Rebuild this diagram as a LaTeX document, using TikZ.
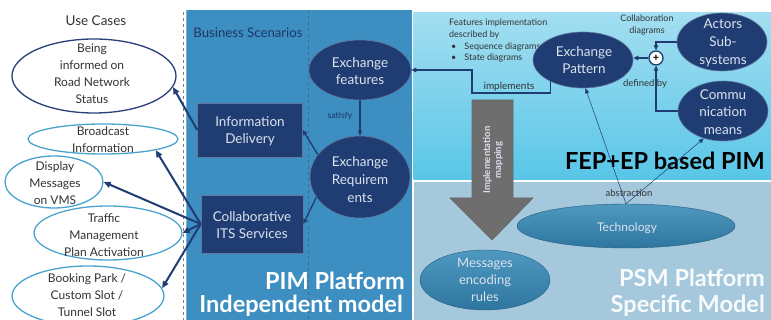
\documentclass[tikz,border=0pt]{standalone}
\usepackage{fontspec}
\setmainfont{Lato}
\usetikzlibrary{shapes.geometric,arrows.meta}
\definecolor{navy}{HTML}{1F3D73}
\definecolor{ucdark}{HTML}{2A3F7A}
\definecolor{uclight}{HTML}{4AA3CF}
\definecolor{pimblue}{HTML}{3D8EC1}
\definecolor{pimedge}{HTML}{6DB3DA}
\definecolor{fepTop}{HTML}{A3DEF1}
\definecolor{fepBot}{HTML}{58C6E7}
\definecolor{psmbg}{HTML}{A5C8DD}
\definecolor{psmTop}{HTML}{4F98C0}
\definecolor{psmBot}{HTML}{2E769F}
\definecolor{lighttext}{HTML}{DCE3EE}
\definecolor{grayarrow}{HTML}{6E6E6E}
\begin{document}
\begin{tikzpicture}[x=1pt,y=-1pt,
  ucshape/.style={ellipse, draw, line width=1.3pt, inner sep=0pt, fill=white},
  ucd/.style={ucshape, draw=ucdark},
  ucl/.style={ucshape, draw=uclight},
  uctext/.style={align=center, inner sep=0pt, text=black!80, font=\fontsize{12}{17}\selectfont},
  nbox/.style={rectangle, fill=navy, draw=navy!70!white, line width=0.6pt, inner sep=0pt},
  nell/.style={ellipse, fill=navy, draw=navy!70!white, line width=0.6pt, inner sep=0pt},
  ntext/.style={align=center, inner sep=0pt, text=lighttext, font=\fontsize{13.5}{17}\selectfont},
  pell/.style={ellipse, top color=psmTop, bottom color=psmBot, draw=psmBot!80!black, line width=0.4pt, inner sep=0pt},
  ptext/.style={align=center, inner sep=0pt, text=lighttext, font=\fontsize{13}{17}\selectfont},
  arr/.style={-{Triangle[length=7pt,width=6pt]}, line width=2pt, draw=navy},
  marr/.style={-{Triangle[length=5pt,width=4.5pt]}, line width=1.3pt, draw=navy},
  thinarr/.style={-{Triangle[length=5pt,width=4pt]}, line width=0.5pt, draw=navy},
  small/.style={inner sep=0pt, text=black!80, font=\fontsize{9}{11.7}\selectfont},
  bigw/.style={inner sep=0pt, text=white, font=\fontsize{23.5}{26}\selectfont\bfseries},
]
\useasboundingbox (0,0) rectangle (771,320);
\clip (0,0) rectangle (771,320);
\fill[white] (0,0) rectangle (771,320);

% panels
\fill[pimblue] (186,10) rectangle (412,320);
\draw[pimedge, line width=1pt] (186.5,10) -- (186.5,320);
\draw[navy!80, dashed, line width=0.5pt] (308,10) -- (308,320);
\draw[gray, dashed, line width=0.6pt] (183,12) -- (183,320);
\shade[top color=fepTop, bottom color=fepBot] (413.5,13) rectangle (771,180);
\fill[psmbg] (413.5,182) rectangle (771,320);

% use cases
\node[uctext, font=\fontsize{13.5}{16}\selectfont] (uctitle) at (96,21) {Use Cases};
\node[ucd, minimum width=164, minimum height=74] (uc1) at (94,76) {};
\node[uctext] (uc1t) at (92,74) {Being\\informed on\\Road Network\\Status};
\node[ucl, minimum width=150, minimum height=30] (uc2) at (103,139) {};
\node[uctext] (uc2t) at (103,140) {Broadcast\\Information};
\node[ucl, minimum width=98, minimum height=52] (uc3) at (54,182) {};
\node[uctext] (uc3t) at (55,183) {Display\\Messages\\on VMS};
\node[ucl, minimum width=148, minimum height=54] (uc4) at (108,233) {};
\node[uctext] (uc4t) at (104,235) {Traffic\\Management\\Plan Activation};
\node[ucl, minimum width=152, minimum height=60] (uc5) at (88,296) {};
\node[uctext] (uc5t) at (87,295) {Booking Park /\\Custom Slot /\\Tunnel Slot};

% PIM
\node[inner sep=0pt, text=navy!90!black, font=\fontsize{13.2}{15}\selectfont] (bs) at (248,33) {Business Scenarios};
\node[nbox, minimum width=105, minimum height=54] (info) at (250,130) {};
\node[ntext] (infot) at (250,131) {Information\\Delivery};
\node[nbox, minimum width=102, minimum height=58] (collab) at (252,224) {};
\node[ntext] (collabt) at (252,225) {Collaborative\\ITS Services};
\node[nell, minimum width=102, minimum height=60] (feat) at (360,70) {};
\node[ntext] (featt) at (360,71) {Exchange\\features};
\node[nell, minimum width=100, minimum height=82] (req) at (360,177) {};
\node[ntext, font=\fontsize{13.5}{18}\selectfont] (reqt) at (360,180) {Exchange\\Requirem\\ents};
\node[inner sep=0pt, text=navy!90!black, font=\fontsize{8.7}{10}\selectfont] (satisfy) at (340,116) {satisfy};
\node[bigw, anchor=east] (pim1) at (405,281) {PIM Platform};
\node[bigw, anchor=east] (pim2) at (403,306) {Independent model};

\draw[marr] (feat) -- (req);
\draw[marr] (req.152) -- (info.east);
\draw[marr] (req.205) -- (collab.east);

\draw[arr] (info.west) -- (uc1.-8);
\draw[arr] (collab.west) -- (uc2.-12);
\draw[arr] (collab.west) -- (uc3.east);
\draw[arr] (collab.west) -- (uc4.east);
\draw[arr] (collab.west) -- (uc5.6);

% FEP+EP
\node[small, align=left, anchor=north west] (featimpl) at (449,19) {Features implementation\\described by\\[0pt]
\hspace*{2pt}\textbullet\hspace{8pt}Sequence diagrams\\
\hspace*{2pt}\textbullet\hspace{8pt}State diagrams};
\node[nell, minimum width=100, minimum height=56] (pattern) at (583,60) {};
\node[ntext] (patternt) at (584,60) {Exchange\\Pattern};
\node[nell, minimum width=90, minimum height=58] (actors) at (722,42) {};
\node[ntext, font=\fontsize{13.5}{18}\selectfont] (actorst) at (723,43) {Actors\\Sub-\\systems};
\node[nell, minimum width=90, minimum height=60] (comm) at (723,111) {};
\node[ntext, font=\fontsize{13.5}{17.5}\selectfont] (commt) at (723,112) {Commu\\nication\\means};
\node[circle, draw=navy, line width=1.3pt, fill=white, minimum size=14, inner sep=0pt, font=\fontsize{11}{11}\selectfont\bfseries] (oplus) at (656,58) {+};
\node[small, align=center] (collabd) at (647,25) {Collaboration\\diagrams};
\node[small, font=\fontsize{9.5}{11}\selectfont] (defby) at (645,84) {defined by};
\node[inner sep=0pt, text=black!80, font=\fontsize{10}{12}\selectfont] (impl) at (509,87) {implements};
\node[inner sep=0pt, text=black, font=\fontsize{23.5}{26}\selectfont\bfseries, anchor=east] (fep) at (765,161) {FEP+EP based PIM};

\draw[marr, line width=1.1pt] (actors.west) -| (oplus.north);
\draw[marr, line width=1.1pt] (comm.west) -| (oplus.south);
\draw[marr, line width=1.1pt] (oplus.west) -- (pattern.east |- oplus.west);
\draw[marr, line width=1.1pt] (pattern.213) |- (472,93) |- (feat.east);

% PSM
\node[pell, minimum width=218, minimum height=44] (tech) at (626,226) {};
\node[ptext, font=\fontsize{12}{14}\selectfont] (techt) at (627,228) {Technology};
\node[pell, minimum width=130, minimum height=60] (msg) at (485,280) {};
\node[ptext] (msgt) at (485,280) {Messages\\encoding\\rules};
\node[small, font=\fontsize{9.5}{11}\selectfont] (abstr) at (629,193) {abstraction};
\draw[thinarr] (tech.north) -- (pattern.-85);
\draw[thinarr] (tech.north) -- (comm.-125);
\node[bigw, anchor=east, text=white!92!psmbg] (psm1) at (765,278) {PSM Platform};
\node[bigw, anchor=east, text=white!92!psmbg] (psm2) at (765,306) {Specific Model};

% implementation mapping arrow
\filldraw[fill=grayarrow, draw=black!60, line width=0.6pt]
  (472,100) -- (513,100) -- (513,198) -- (533,198) -- (492,240) -- (450,198) -- (472,198) -- cycle;
\node[inner sep=0pt, rotate=90, align=center, text=lighttext, font=\fontsize{9.5}{11}\selectfont\bfseries] (mapt) at (493,160) {Implementation\\mapping};
\end{tikzpicture}
\end{document}
